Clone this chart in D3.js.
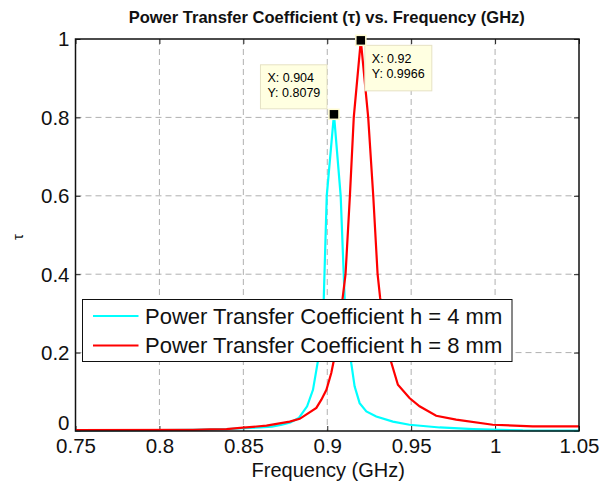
<!DOCTYPE html>
<html>
<head>
<meta charset="utf-8">
<script src="https://cdn.jsdelivr.net/npm/d3@7"></script>
<style>
  body { margin: 0; background: #fff; }
  svg { display: block; font-family: "Liberation Sans", Arial, sans-serif; }
  .grid line { stroke: #b0b0b0; stroke-dasharray: 6,4; stroke-width: 1; }
  .tick text { font-size: 20.5px; fill: #111; }
</style>
</head>
<body>
<div id="chart"></div>
<script>
/* values */
var freqH4 = [0.75, 0.80, 0.82, 0.84, 0.85, 0.86, 0.867, 0.873, 0.878, 0.883, 0.888, 0.8915, 0.8945,
              0.8979, 0.8997, 0.904, 0.908, 0.9104, 0.9143, 0.9163, 0.9193, 0.9233, 0.9292, 0.9391,
              0.949, 0.967, 0.987, 1.0165, 1.05];
var tauH4  = [0.001, 0.002, 0.003, 0.005, 0.007, 0.009, 0.011, 0.016, 0.022, 0.033, 0.063, 0.105, 0.18,
              0.334, 0.6, 0.8079, 0.6, 0.334, 0.173, 0.114, 0.071, 0.050, 0.037, 0.024,
              0.016, 0.009, 0.005, 0.0015, 0.001];

var freqH8 = [0.75, 0.82, 0.83, 0.84, 0.8498, 0.8638, 0.8776, 0.8836, 0.8935, 0.8965, 0.8995, 0.9024,
              0.9044, 0.9092, 0.9109, 0.9135, 0.9158, 0.92, 0.9244, 0.9274, 0.930, 0.9315, 0.9371,
              0.9421, 0.949, 0.955, 0.9649, 0.9768, 0.9986, 1.0224, 1.05];
var tauH8  = [0.002, 0.003, 0.004, 0.005, 0.0084, 0.0135, 0.024, 0.031, 0.059, 0.08, 0.105, 0.148,
              0.19, 0.34, 0.4, 0.6, 0.8, 0.9966, 0.8, 0.6, 0.4, 0.34, 0.19,
              0.118, 0.084, 0.063, 0.039, 0.029, 0.016, 0.012, 0.012];

var xTicks = [0.75, 0.8, 0.85, 0.9, 0.95, 1, 1.05];
var yTicks = [0, 0.2, 0.4, 0.6, 0.8, 1];

var seriesNames = ["Power Transfer Coefficient h = 4 mm", "Power Transfer Coefficient h = 8 mm"];
var seriesColors = ["#00ffff", "#ff0000"];

/* data tips */
var tipX = [0.904, 0.92];
var tipY = [0.8079, 0.9966];

var titleText = "Power Transfer Coefficient (\u03c4) vs. Frequency (GHz)";
var xLabel = "Frequency (GHz)";
var yLabel = "\u03c4";

var margin = {top: 39, right: 33, bottom: 55, left: 75.5},
    W = 612, H = 486,
    width = W - margin.left - margin.right,
    height = H - margin.top - margin.bottom;

var x = d3.scaleLinear().domain([0.75, 1.05]).range([0, width]),
    y = d3.scaleLinear().domain([0, 1]).range([height, 0]);

var svg = d3.select("#chart").append("svg")
    .attr("width", W)
    .attr("height", H);

var g = svg.append("g")
    .attr("transform", "translate(" + margin.left + "," + margin.top + ")");

/* dashed grid */
var grid = g.append("g").attr("class", "grid");
grid.selectAll("line.v")
  .data(xTicks.slice(1, -1))
  .enter().append("line")
    .attr("x1", function(d) { return x(d); })
    .attr("x2", function(d) { return x(d); })
    .attr("y1", 0)
    .attr("y2", height);
grid.selectAll("line.h")
  .data(yTicks.slice(1, -1))
  .enter().append("line")
    .attr("x1", 0)
    .attr("x2", width)
    .attr("y1", function(d) { return y(d); })
    .attr("y2", function(d) { return y(d); });

/* axes, ticks drawn inward like matlab */
var xAxis = d3.axisBottom(x).tickValues(xTicks).tickSize(-5).tickPadding(8)
    .tickFormat(function(d) { return String(d); });
var yAxis = d3.axisLeft(y).tickValues(yTicks).tickSize(-5).tickPadding(6)
    .tickFormat(function(d) { return String(d); });

var gX = g.append("g")
    .attr("transform", "translate(0," + height + ")")
    .call(xAxis);
var gY = g.append("g").call(yAxis);
g.append("g").call(d3.axisTop(x).tickValues(xTicks).tickSize(-5).tickFormat(""));
g.append("g").attr("transform", "translate(" + width + ",0)")
    .call(d3.axisRight(y).tickValues(yTicks).tickSize(-5).tickFormat(""));

g.selectAll(".domain").remove();
g.selectAll(".tick line").attr("stroke", "#222");
gX.selectAll(".tick text").attr("dy", "0.7em");
gY.selectAll(".tick text").attr("dy", function(d) { return d === 0 ? "-0.06em" : "0.34em"; });

/* lines */
var line = d3.line()
  .x(function(d) { return x(d[0]); })
  .y(function(d) { return y(d[1]); });

var dataH4 = d3.zip(freqH4, tauH4),
    dataH8 = d3.zip(freqH8, tauH8);

g.append("path")
    .datum(dataH4)
    .attr("fill", "none")
    .attr("stroke", seriesColors[0])
    .attr("stroke-width", 2.2)
    .attr("d", line);

g.append("path")
    .datum(dataH8)
    .attr("fill", "none")
    .attr("stroke", seriesColors[1])
    .attr("stroke-width", 2.2)
    .attr("d", line);

/* frame */
g.append("rect")
    .attr("width", width)
    .attr("height", height)
    .attr("fill", "none")
    .attr("stroke", "#111")
    .attr("stroke-width", 1.5);

/* data tips */
var tipBoxes = [
  {dx: -73.5, dy: -49.5, w: 66.5, h: 44},
  {dx: 4, dy: 5, w: 67, h: 45.5}
];
tipX.forEach(function(tx, i) {
  var px = x(tx), py = y(tipY[i]), b = tipBoxes[i];
  var tg = g.append("g").attr("transform", "translate(" + (px + b.dx) + "," + (py + b.dy) + ")");
  tg.append("rect")
      .attr("width", b.w)
      .attr("height", b.h)
      .attr("fill", "#ffffe1")
      .attr("stroke", "#e6e2c4")
      .attr("stroke-width", 1);
  tg.append("text")
      .attr("x", 7)
      .attr("y", 17.5)
      .attr("font-size", "12.5px")
      .text("X: " + tx);
  tg.append("text")
      .attr("x", 7)
      .attr("y", 32.5)
      .attr("font-size", "12.5px")
      .text("Y: " + tipY[i]);
  g.append("rect")
      .attr("x", px - 5)
      .attr("y", py - 5)
      .attr("width", 10)
      .attr("height", 10)
      .attr("fill", "#000")
      .attr("stroke", "#fffbd0")
      .attr("stroke-width", 1.5);
});

/* legend */
var lg = svg.append("g").attr("transform", "translate(82.5,299.5)");
lg.append("rect")
    .attr("width", 429.5)
    .attr("height", 62)
    .attr("fill", "#fff")
    .attr("stroke", "#111")
    .attr("stroke-width", 1);
seriesNames.forEach(function(name, i) {
  var ly = 16.5 + i * 29.5;
  lg.append("line")
      .attr("x1", 10.5).attr("x2", 56)
      .attr("y1", ly).attr("y2", ly)
      .attr("stroke", seriesColors[i])
      .attr("stroke-width", 2.2);
  lg.append("text")
      .attr("x", 62.5)
      .attr("y", ly + 7.5)
      .attr("font-size", "22px")
      .attr("fill", "#111")
      .text(name);
});

/* titles */
svg.append("text")
    .attr("x", margin.left + width / 2 - 0.5)
    .attr("y", 22.5)
    .attr("text-anchor", "middle")
    .attr("font-weight", "bold")
    .attr("font-size", "16.5px")
    .attr("fill", "#111")
    .text(titleText);

svg.append("text")
    .attr("x", margin.left + width / 2 + 1)
    .attr("y", 477)
    .attr("text-anchor", "middle")
    .attr("font-size", "20px")
    .attr("fill", "#111")
    .text(xLabel);

svg.append("text")
    .attr("transform", "translate(23,237) rotate(-90)")
    .attr("text-anchor", "middle")
    .attr("font-size", "15px")
    .attr("fill", "#111")
    .text(yLabel);
</script>
</body>
</html>
